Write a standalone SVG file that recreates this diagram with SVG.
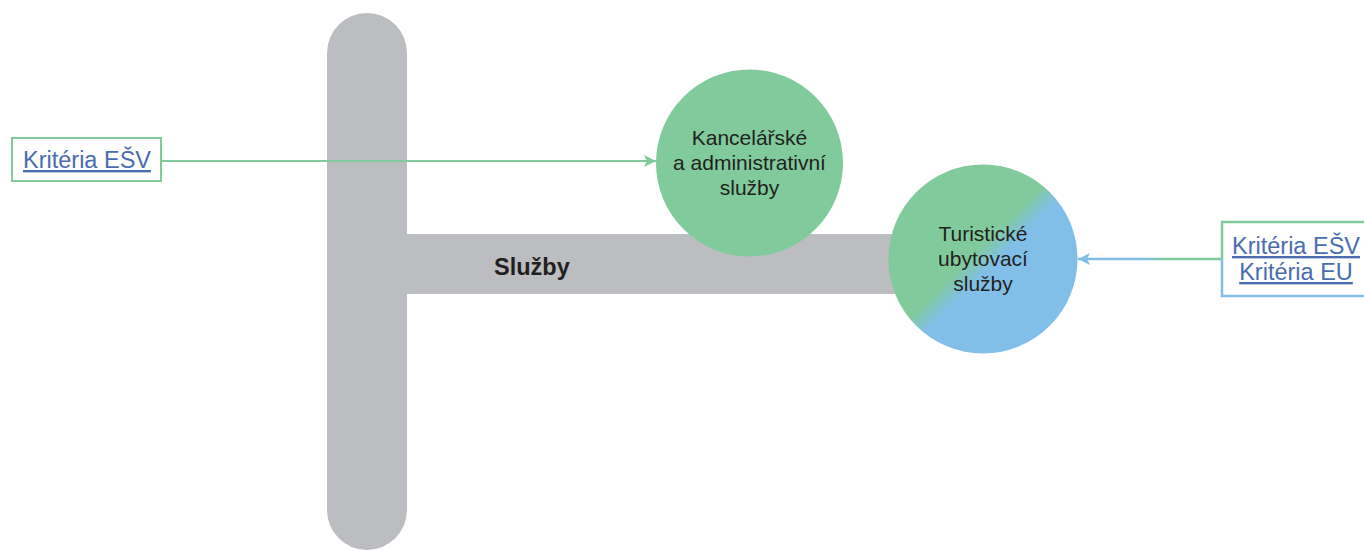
<svg xmlns="http://www.w3.org/2000/svg" width="1364" height="550" viewBox="0 0 1364 550">
<defs>
<style>
.bar{fill:#bcbdc0}
.ct{font-family:"Liberation Sans",Arial,sans-serif;font-size:21px;fill:#231f20;text-anchor:middle}
.lk{font-family:"Liberation Sans",Arial,sans-serif;font-size:23.5px;fill:#4a6cb0;text-anchor:middle;text-decoration:underline}
.lbl{font-family:"Liberation Sans",Arial,sans-serif;font-size:23.5px;font-weight:bold;fill:#231f20}
</style>
<linearGradient id="split" x1="0" y1="0" x2="1" y2="1">
<stop offset="0.46" stop-color="#80ca9c"/>
<stop offset="0.54" stop-color="#82bfe8"/>
</linearGradient>
<linearGradient id="lineg" gradientUnits="userSpaceOnUse" x1="1080" y1="0" x2="1222" y2="0">
<stop offset="0.45" stop-color="#82bfe8"/>
<stop offset="0.6" stop-color="#80ca9c"/>
</linearGradient>
<marker id="ag" markerWidth="12" markerHeight="12" refX="12" refY="6" orient="auto" markerUnits="userSpaceOnUse">
<path d="M0,0 L12,6 L0,12 L3,6 Z" fill="#80ca9c"/>
</marker>
<marker id="ab" markerWidth="12" markerHeight="12" refX="12" refY="6" orient="auto" markerUnits="userSpaceOnUse">
<path d="M0,0 L12,6 L0,12 L3,6 Z" fill="#82bfe8"/>
</marker>
</defs>
<g id="trunk">
<rect class="bar" x="327" y="13" width="80" height="537" rx="40"/>
<rect class="bar" x="400" y="234" width="505" height="60"/>
<text class="lbl" x="494" y="275">Služby</text>
</g>
<g id="connectors">
<line x1="162" y1="161" x2="656" y2="161" stroke="#80ca9c" stroke-width="2" marker-end="url(#ag)"/>
<line x1="1222" y1="259" x2="1078" y2="259" stroke="url(#lineg)" stroke-width="2.5" marker-end="url(#ab)"/>
</g>
<g id="node-kancelarske">
<circle cx="749.5" cy="163" r="93.5" fill="#80ca9c"/>
<text class="ct" x="749.5" y="145">Kancelářské</text>
<text class="ct" x="749.5" y="170">a administrativní</text>
<text class="ct" x="749.5" y="195">služby</text>
</g>
<g id="node-turisticke">
<circle cx="983" cy="259" r="94.5" fill="url(#split)"/>
<text class="ct" x="983" y="241">Turistické</text>
<text class="ct" x="983" y="266">ubytovací</text>
<text class="ct" x="983" y="291">služby</text>
</g>
<g id="box-left">
<rect x="12" y="138" width="149" height="43" fill="#fff" stroke="#80ca9c" stroke-width="2"/>
<text class="lk" x="87" y="168">Kritéria EŠV</text>
</g>
<g id="box-right">
<rect x="1222" y="222" width="150" height="74" fill="#fff"/>
<path d="M1222,259 V222 H1370" fill="none" stroke="#80ca9c" stroke-width="2.5"/>
<path d="M1222,259 V296 H1370" fill="none" stroke="#82bfe8" stroke-width="2.5"/>
<text class="lk" x="1296" y="254">Kritéria EŠV</text>
<text class="lk" x="1296" y="280">Kritéria EU</text>
</g>
</svg>
